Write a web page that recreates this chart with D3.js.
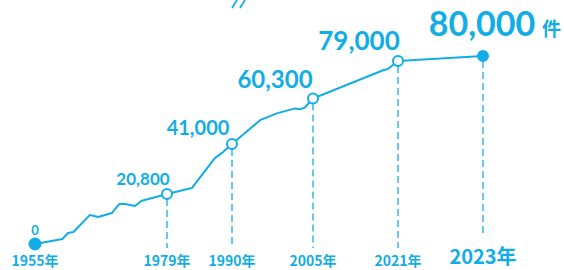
<!DOCTYPE html>
<html>
<head>
<meta charset="utf-8">
<script src="https://cdn.jsdelivr.net/npm/d3@7"></script>
<style>
  body { margin: 0; background: #fff; }
  svg { display: block; }
</style>
</head>
<body>
<div id="chart"></div>
<script>
var width = 564,
    height = 270,
    blue = "#12ade6";

// milestone years and counts
var years = [1955, 1979, 1990, 2005, 2021, 2023];
var counts = [0, 20800, 41000, 60300, 79000, 80000];
var yearLabels = ["1955年", "1979年", "1990年", "2005年", "2021年", "2023年"];
var countLabels = ["0", "20,800", "41,000", "60,300", "79,000", "80,000"];

// the whole trend line (year, count)
var lineYears = [1955, 1960, 1961, 1962, 1965, 1966.5, 1969, 1970.3, 1971.4, 1973.2, 1974.3, 1979,
                 1983.2, 1987.1, 1988.3, 1990, 1995.2, 1998.3, 2001.7, 2002.6, 2003.5, 2005,
                 2018.2, 2019.1, 2021, 2023];
var lineCounts = [0, 2100, 4600, 5000, 12100, 11200, 12900, 16600, 16600, 15800, 17900, 20800,
                  23200, 35300, 37400, 41000, 51100, 54000, 56100, 55700, 56500, 60300,
                  74400, 75000, 79000, 80000];

var svg = d3.select("#chart").append("svg")
    .attr("width", width)
    .attr("height", height);

// stylised axes: piecewise through the milestones
var x = d3.scaleLinear()
    .domain(years)
    .range([35, 167, 232, 313, 398, 483]);

var y = d3.scaleLinear()
    .domain(counts)
    .range([244, 194, 144, 98.5, 61, 56]);

var line = d3.line()
    .x(function(d) { return x(d[0]); })
    .y(function(d) { return y(d[1]); });

var lineData = lineYears.map(function(d, i) { return [d, lineCounts[i]]; });
var pts = years.map(function(d, i) { return {year: d, count: counts[i], i: i}; });

// the // mark at the top
svg.append("g")
    .selectAll("line")
    .data([232, 240])
    .enter().append("line")
    .attr("x1", function(d) { return d; })
    .attr("y1", 8)
    .attr("x2", function(d) { return d + 5; })
    .attr("y2", 0)
    .attr("stroke", blue)
    .attr("stroke-width", 1.8);

// dashed drop lines
svg.append("g")
    .selectAll("line")
    .data(pts.slice(1))
    .enter().append("line")
    .attr("x1", function(d) { return x(d.year); })
    .attr("x2", function(d) { return x(d.year); })
    .attr("y1", function(d) { return y(d.count) + 5; })
    .attr("y2", function(d) { return d.i == 5 ? 236 : 248; })
    .attr("stroke", blue)
    .attr("stroke-width", 1.3)
    .attr("stroke-dasharray", "7,4");

svg.append("path")
    .datum(lineData)
    .attr("d", line)
    .attr("fill", "none")
    .attr("stroke", blue)
    .attr("stroke-width", 2)
    .attr("stroke-linejoin", "round");

svg.append("g")
    .selectAll("circle")
    .data(pts)
    .enter().append("circle")
    .attr("cx", function(d) { return x(d.year); })
    .attr("cy", function(d) { return y(d.count); })
    .attr("r", function(d) { return d.i == 0 ? 5.5 : 5; })
    .attr("fill", function(d) { return (d.i == 0 || d.i == 5) ? blue : "#fff"; })
    .attr("stroke", blue)
    .attr("stroke-width", 2);

// count labels
var labelDx = [0, -24, -34, -38, -39, -1],
    labelDy = [-9, -9, -9, -11, -11, -20],
    labelSize = [13, 17, 20, 24, 26, 34];

svg.append("g")
    .selectAll("text")
    .data(pts)
    .enter().append("text")
    .attr("x", function(d) { return x(d.year) + labelDx[d.i]; })
    .attr("y", function(d) { return y(d.count) + labelDy[d.i]; })
    .attr("text-anchor", "middle")
    .attr("font-family", "Lato, sans-serif")
    .attr("font-weight", 700)
    .attr("font-size", function(d) { return labelSize[d.i]; })
    .attr("fill", blue)
    .text(function(d) { return countLabels[d.i]; });

svg.append("text")
    .attr("x", 542)
    .attr("y", 36)
    .attr("font-family", "'Noto Sans CJK JP', sans-serif")
    .attr("font-weight", 700)
    .attr("font-size", 19)
    .attr("fill", blue)
    .text("件");

// year labels
svg.append("g")
    .selectAll("text")
    .data(pts)
    .enter().append("text")
    .attr("x", function(d) { return x(d.year); })
    .attr("y", function(d) { return d.i == 5 ? 264 : 266; })
    .attr("text-anchor", "middle")
    .attr("font-family", "'Noto Sans CJK JP', sans-serif")
    .attr("font-weight", 700)
    .attr("font-size", function(d) { return d.i == 5 ? 20 : 14; })
    .attr("fill", blue)
    .text(function(d) { return yearLabels[d.i]; });
</script>
</body>
</html>
